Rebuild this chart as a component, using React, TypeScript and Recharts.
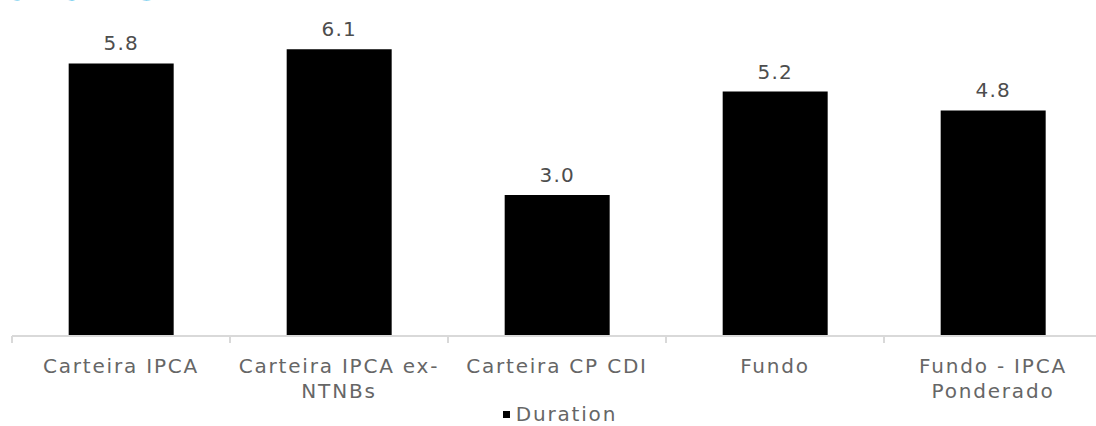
import { BarChart, Bar, XAxis, YAxis, Legend, LabelList } from 'recharts';

const categories = ['Carteira IPCA', 'Carteira IPCA ex-\nNTNBs', 'Carteira CP CDI', 'Fundo', 'Fundo - IPCA\nPonderado'];
const durations = [5.8, 6.1, 3.0, 5.2, 4.8];
const seriesName = 'Duration';

const data = categories.map((name, i) => ({ name, duration: durations[i] }));

const FONT = '"DejaVu Sans", sans-serif';
const TEXT = '#666666';
const AXIS = '#d9d9d9';

function CategoryTick(props: any) {
  const { x, y, payload, index, visibleTicksCount } = props;
  const half = payload.offset ?? 0;
  const lines = String(payload.value).split('\n');
  const last = index === visibleTicksCount - 1;
  return (
    <g>
      <line x1={x - half} x2={x - half} y1={y - 8} y2={y - 1} stroke={AXIS} strokeWidth={2} />
      {last && <line x1={x + half} x2={x + half} y1={y - 8} y2={y - 1} stroke={AXIS} strokeWidth={2} />}
      <text x={x} y={y + 29} textAnchor="middle" fill={TEXT} fontSize={20} fontFamily={FONT} letterSpacing={1.8}>
        {lines.map((l, i) => (
          <tspan key={i} x={x} dy={i === 0 ? 0 : 25}>{l}</tspan>
        ))}
      </text>
    </g>
  );
}

function LegendBox() {
  return (
    <div style={{ display: 'flex', justifyContent: 'center', alignItems: 'center', height: 30, lineHeight: '22px', paddingTop: 6, boxSizing: 'border-box', fontFamily: FONT, fontSize: 20, color: TEXT, letterSpacing: 1.8, paddingLeft: 6 }}>
      <span style={{ width: 7, height: 7, background: '#000', display: 'inline-block', marginRight: 6 }} />
      {seriesName}
    </div>
  );
}

export default function App() {
  return (
    <div style={{ position: 'absolute', left: 0, top: 0, width: 1096, height: 426, overflow: 'hidden', background: '#fff' }}>
      {/* section heading, pushed above the top edge */}
      <div style={{ position: 'absolute', left: -33, top: -39, fontFamily: FONT, fontWeight: 700, fontSize: 44, color: '#27b5e8', lineHeight: '48px', letterSpacing: 1.5 }}>
        Duration
      </div>
      <BarChart width={1110} height={426} data={data} margin={{ top: 7, right: 8, bottom: 0, left: 12 }} barCategoryGap="26%">
        <XAxis dataKey="name" height={60} axisLine={{ stroke: AXIS, strokeWidth: 2 }} tickLine={false} tick={<CategoryTick />} interval={0} />
        <YAxis hide domain={[0, 7]} />
        <Legend verticalAlign="bottom" height={30} content={<LegendBox />} />
        <Bar dataKey="duration" name={seriesName} fill="#000" isAnimationActive={false}>
          <LabelList dataKey="duration" position="top" offset={13} fill="#4d4d4d" fontSize={20} fontFamily={FONT} letterSpacing={1.2} formatter={(v: any) => Number(v).toFixed(1)} />
        </Bar>
      </BarChart>
    </div>
  );
}
